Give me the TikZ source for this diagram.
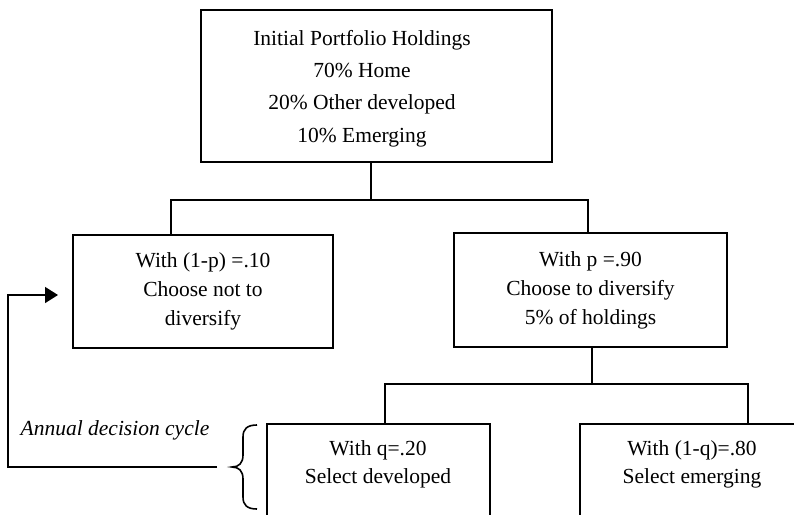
\documentclass[tikz,border=0pt]{standalone}
\usepackage{fontspec}
\setmainfont{Liberation Serif}
\usetikzlibrary{arrows.meta}
\tikzset{
  conn/.style={line width=1.6pt},
  box/.style={draw, line width=1.6pt, rectangle, inner sep=0pt},
  txt/.style={align=center, inner sep=0pt, font=\fontsize{21.5}{29}\selectfont},
}
\begin{document}
\begin{tikzpicture}[x=1pt,y=-1pt]
\useasboundingbox (0,0) rectangle (794,514);
\clip (0,0) rectangle (794,514);
% boxes
\node[box, minimum width=351pt, minimum height=152pt] (top) at (376.5,86) {};
\node[txt, font=\fontsize{21.5}{32.4}\selectfont] (toptxt) at (362,88.5)
  {Initial Portfolio Holdings\\70\% Home\\20\% Other developed\\10\% Emerging};
\node[box, txt, minimum width=260pt, minimum height=113pt] (nodiv) at (203,291.5)
  {With (1-p) =.10\\Choose not to\\diversify};
\node[box, txt, minimum width=273pt, minimum height=114pt] (div) at (590.5,290)
  {With p =.90\\Choose to diversify\\5\% of holdings};
\node[box, minimum width=223pt, minimum height=120pt] (dev) at (378.5,484) {};
\node[txt, font=\fontsize{21.5}{28}\selectfont] (devtxt) at (378,464)
  {With q=.20\\Select developed};
\node[box, minimum width=224pt, minimum height=120pt] (emg) at (692,484) {};
\node[txt, font=\fontsize{21.5}{28}\selectfont] (emgtxt) at (692,464)
  {With (1-q)=.80\\Select emerging};
\node[inner sep=0pt, font=\fontsize{21.5}{26}\selectfont\itshape] (cycle) at (115,430)
  {Annual decision cycle};
% tree connectors
\draw[conn] ([xshift=-5.5pt]top.south) -- ++(0,37) coordinate (bus1);
\draw[conn] ([xshift=-32pt]nodiv.north) |- (bus1) -| ([xshift=-2.5pt]div.north);
\draw[conn] ([xshift=1.5pt]div.south) -- ++(0,36) coordinate (bus2);
\draw[conn] ([xshift=6.5pt]dev.north) |- (bus2) -| ([xshift=56pt]emg.north);
% brace
\draw[conn] (257,425) .. controls (247,425) and (243,429) .. (243,437)
  -- (243,455) .. controls (243,463) and (239,467) .. (232,467)
  .. controls (239,467) and (243,471) .. (243,479)
  -- (243,497) .. controls (243,505) and (247,509) .. (257,509);
% feedback arrow
\coordinate (fbs) at (217,467);
\coordinate (fbe) at (58,295);
\draw[conn, -{Triangle[length=13pt,width=16pt]}] (fbs) -- ++(-209,0) |- (fbe);
\end{tikzpicture}
\end{document}
